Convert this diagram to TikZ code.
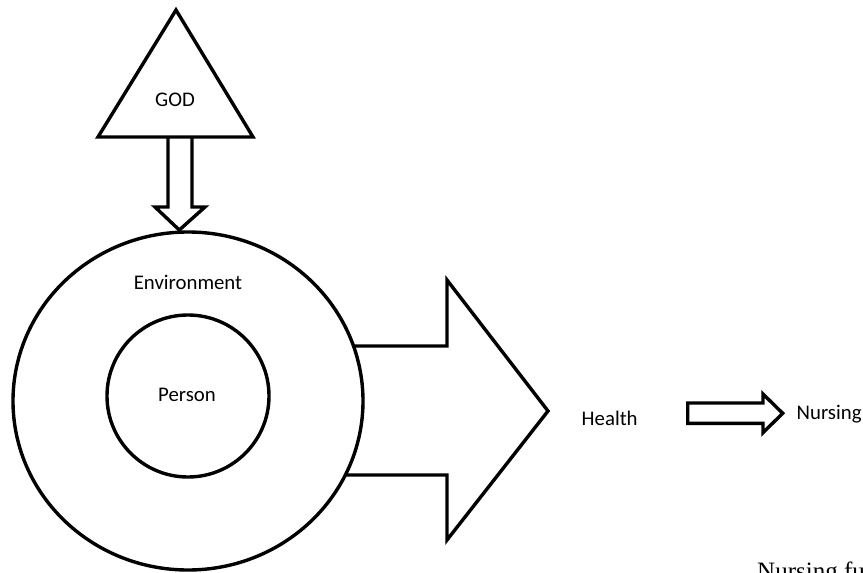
\documentclass[tikz,border=0pt]{standalone}
\usepackage{fontspec}
\setmainfont{Carlito}
\newfontfamily\serifcap{Liberation Serif}
\usetikzlibrary{shapes.geometric}
\begin{document}
\begin{tikzpicture}[x=1pt,y=-1pt,
  shapeline/.style={draw=black,line width=3.4pt,line join=miter},
  lbl/.style={font=\fontsize{20.8}{24}\selectfont,inner sep=0pt}]
\useasboundingbox (0,0) rectangle (863,573);
% God triangle
\draw[shapeline] (176,10) coordinate (gtop) -- (253,137) coordinate (gright) -- (98,137) coordinate (gleft) -- cycle;
\node[lbl] (god) at (175,100) {GOD};
% down arrow
\draw[shapeline] (168,137) -- (168,207) -- (155,207) -- (179.3,230) coordinate (dtip) -- (205,207) -- (192,207) -- (192,137);
% circles
\node[shapeline,ellipse,minimum width=350pt,minimum height=338pt,inner sep=0pt] (env) at (188,401) {};
\node[shapeline,circle,minimum size=162pt,inner sep=0pt] (person) at (188,396) {};
\node[lbl] (envlbl) at (188,282) {Environment};
\node[lbl] (perslbl) at (187,395) {Person};
% big arrow
\draw[shapeline] (353.5,346) -- (447,346) -- (447,280) -- (548,411) coordinate (btip) -- (447,540) -- (447,475) -- (345.3,475);
% Health
\node[lbl] (health) at (609.7,418) {Health};
% small arrow
\draw[shapeline] (687.7,403) -- (763,403) -- (763,394) -- (782.7,413.3) -- (763,432.7) -- (763,423.3) -- (687.7,423.3) -- cycle;
\node[lbl,anchor=west] (nursing) at (796.5,414) {Nursing};
% caption (cut off at the edge, as in the reference)
\node[font=\serifcap\fontsize{25}{30}\selectfont,inner sep=0pt,anchor=base west] (caption) at (757,579) {Nursing fu};
\end{tikzpicture}
\end{document}
